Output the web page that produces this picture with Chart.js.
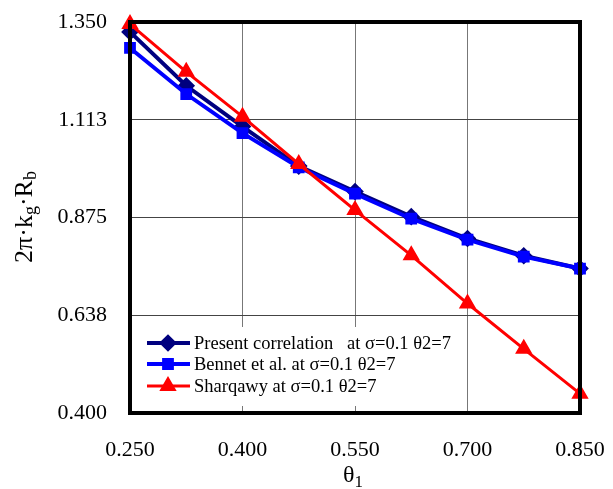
<!DOCTYPE html>
<html>
<head>
<meta charset="utf-8">
<script src="https://cdn.jsdelivr.net/npm/chart.js@4.4.1/dist/chart.umd.min.js"></script>
<style>
    html, body { margin: 0; padding: 0; background: #fff; }
    #wrap { width: 613px; height: 489px; }
</style>
</head>
<body>
<div id="wrap"><canvas id="thetaChart" width="613" height="489"></canvas></div>
<script>
// values
const theta1 = [0.25, 0.325, 0.4, 0.475, 0.55, 0.625, 0.7, 0.775, 0.85];
const presentCorrelation = [1.326, 1.195, 1.096, 1.000, 0.938, 0.877, 0.824, 0.782, 0.751];
const bennet = [1.287, 1.175, 1.080, 0.997, 0.933, 0.872, 0.821, 0.780, 0.751];
const sharqawy = [1.345, 1.229, 1.120, 1.005, 0.893, 0.783, 0.666, 0.556, 0.447];

const xTickValues = [0.25, 0.4, 0.55, 0.7, 0.85];
const xTickLabels = ['0.250', '0.400', '0.550', '0.700', '0.850'];
const yTickValues = [0.4, 0.6375, 0.875, 1.1125, 1.35];
const yTickLabels = ['0.400', '0.638', '0.875', '1.113', '1.350'];

const seriesLabels = [
    'Present correlation   at \u03c3=0.1 \u03b82=7',
    'Bennet et al. at \u03c3=0.1 \u03b82=7',
    'Sharqawy at \u03c3=0.1 \u03b82=7'
];

const SERIF = "'Liberation Serif', 'Times New Roman', serif";

function toPoints(ys) {
    return theta1.map((x, i) => ({x: x, y: ys[i]}));
}

// white legend box inside the plot, bottom left
const insideLegend = {
    id: 'insideLegend',
    afterDatasetsDraw(chart) {
        const ctx = chart.ctx;
        const area = chart.chartArea;
        ctx.save();
        ctx.fillStyle = '#fff';
        ctx.fillRect(area.left, 327, 462 - area.left, area.bottom - 327 - 7);
        const rows = [343, 364, 386];
        chart.data.datasets.forEach((ds, i) => {
            const y = rows[i];
            ctx.strokeStyle = ds.borderColor;
            ctx.lineWidth = ds.borderWidth;
            ctx.beginPath();
            ctx.moveTo(147, y);
            ctx.lineTo(190, y);
            ctx.stroke();
            Chart.helpers.drawPoint(ctx, {
                pointStyle: ds.pointStyle,
                radius: ds.pointRadius,
                borderWidth: 1
            }, 168, y);
            ctx.fillStyle = ds.backgroundColor;
            ctx.fill();
            ctx.fillStyle = '#000';
            ctx.font = '18.5px ' + SERIF;
            ctx.textAlign = 'left';
            ctx.textBaseline = 'middle';
            ctx.fillText(ds.label, 194, y + 1);
        });
        ctx.restore();
    },
    afterDraw(chart) {
        const ctx = chart.ctx;
        const area = chart.chartArea;
        ctx.save();
        ctx.strokeStyle = '#000';
        ctx.lineWidth = 4;
        ctx.strokeRect(area.left, area.top, area.right - area.left, area.bottom - area.top);

        // axis titles with subscripts
        ctx.fillStyle = '#000';
        ctx.textBaseline = 'alphabetic';
        ctx.textAlign = 'left';
        const xParts = [['\u03b8', 24, 0], ['1', 17, 5]];
        drawParts(ctx, xParts, 353, 482);

        ctx.translate(32, 217);
        ctx.rotate(-Math.PI / 2);
        const yParts = [['2\u03c0\u00b7k', 26, 0], ['g', 18, 4], ['\u00b7R', 26, 0], ['b', 18, 4]];
        drawParts(ctx, yParts, 0, 0);
        ctx.restore();
    }
};

function drawParts(ctx, parts, cx, baseY) {
    let total = 0;
    parts.forEach(p => {
        ctx.font = p[1] + 'px ' + SERIF;
        total += ctx.measureText(p[0]).width;
    });
    let x = cx - total / 2;
    parts.forEach(p => {
        ctx.font = p[1] + 'px ' + SERIF;
        ctx.fillText(p[0], x, baseY + p[2]);
        x += ctx.measureText(p[0]).width;
    });
}

new Chart(document.getElementById('thetaChart'), {
    type: 'line',
    data: {
        datasets: [
            {
                label: seriesLabels[0],
                data: toPoints(presentCorrelation),
                borderColor: '#00007f',
                backgroundColor: '#00007f',
                borderWidth: 4,
                pointStyle: 'rectRot',
                pointRadius: 6,
                order: 3
            },
            {
                label: seriesLabels[1],
                data: toPoints(bennet),
                borderColor: '#0000ff',
                backgroundColor: '#0000ff',
                borderWidth: 4,
                pointStyle: 'rect',
                pointRadius: 5.5,
                order: 2
            },
            {
                label: seriesLabels[2],
                data: toPoints(sharqawy),
                borderColor: '#ff0000',
                backgroundColor: '#ff0000',
                borderWidth: 3,
                pointStyle: 'triangle',
                pointRadius: 7,
                order: 1
            }
        ]
    },
    options: {
        responsive: false,
        animation: false,
        clip: false,
        layout: {padding: {top: 22, right: 33, left: 0, bottom: 0}},
        elements: {
            line: {tension: 0},
            point: {borderWidth: 1, hoverRadius: 6}
        },
        scales: {
            x: {
                type: 'linear',
                min: 0.25,
                max: 0.85,
                afterFit: function(scale) {
                    scale.height = 76;
                    scale.paddingLeft = 0;
                    scale.paddingRight = 0;
                },
                afterBuildTicks: function(scale) {
                    scale.ticks = xTickValues.map(v => ({value: v}));
                },
                border: {display: false},
                grid: {color: '#777', lineWidth: 1, drawTicks: false},
                ticks: {
                    padding: 24,
                    color: '#000',
                    font: {family: SERIF, size: 22},
                    callback: function(value, index) { return xTickLabels[index]; }
                }
            },
            y: {
                type: 'linear',
                min: 0.4,
                max: 1.35,
                afterFit: function(scale) {
                    scale.width = 130;
                    scale.paddingTop = 0;
                    scale.paddingBottom = 0;
                },
                afterBuildTicks: function(scale) {
                    scale.ticks = yTickValues.map(v => ({value: v}));
                },
                border: {display: false},
                grid: {color: '#444', lineWidth: 1, drawTicks: false},
                ticks: {
                    padding: 23,
                    color: '#000',
                    font: {family: SERIF, size: 22},
                    callback: function(value, index) { return yTickLabels[index]; }
                }
            }
        },
        plugins: {
            legend: {display: false},
            tooltip: {enabled: false},
            title: {display: false}
        }
    },
    plugins: [insideLegend]
});
</script>
</body>
</html>
